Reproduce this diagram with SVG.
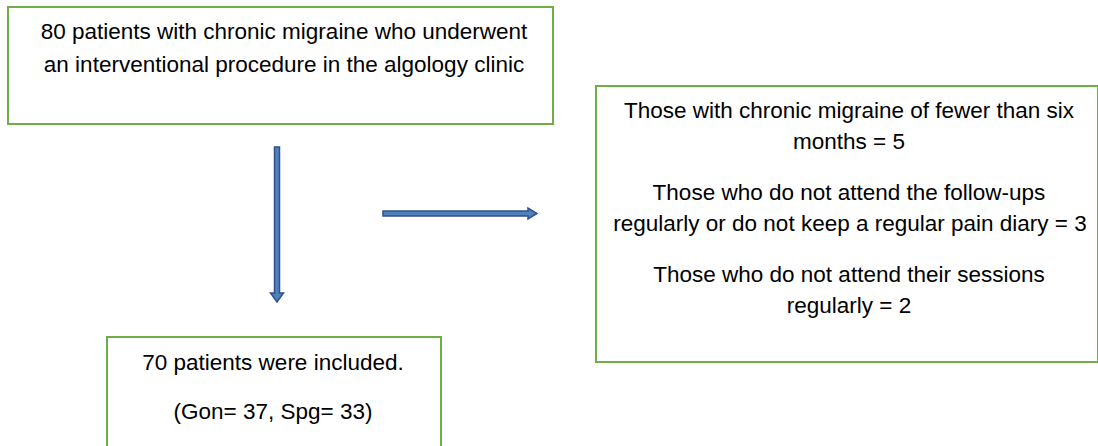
<svg xmlns="http://www.w3.org/2000/svg" width="1098" height="446" viewBox="0 0 1098 446">
<style>
.box{fill:#fff;stroke:#70ad47;stroke-width:2}
.t{font-family:"Liberation Sans",Arial,sans-serif;font-size:22.5px;fill:#000;text-anchor:middle}
.arr{fill:#4f81bd;stroke:#2f528f;stroke-width:1.5}
</style>
<rect width="1098" height="446" fill="#fff"/>
<g id="node-start">
<rect class="box" x="8" y="7" width="545" height="117"/>
<text class="t" x="284" y="39">80 patients with chronic migraine who underwent</text>
<text class="t" x="284" y="72">an interventional procedure in the algology clinic</text>
</g>
<g id="node-excluded">
<rect class="box" x="596" y="86" width="502" height="276"/>
<text class="t" x="849" y="118">Those with chronic migraine of fewer than six</text>
<text class="t" x="849" y="149">months = 5</text>
<text class="t" x="849" y="200">Those who do not attend the follow-ups</text>
<text class="t" x="850" y="231">regularly or do not keep a regular pain diary = 3</text>
<text class="t" x="849" y="282">Those who do not attend their sessions</text>
<text class="t" x="849" y="313">regularly = 2</text>
</g>
<g id="node-included">
<rect class="box" x="107" y="337" width="334" height="120"/>
<text class="t" x="273" y="370">70 patients were included.</text>
<text class="t" x="273" y="419">(Gon= 37, Spg= 33)</text>
</g>
<g id="connectors">
<path class="arr" d="M274.5 147 H279.5 V293 H283.5 L277 302 L270.5 293 H274.5 Z"/>
<path class="arr" d="M383 211 H528 V208 L537 213.5 L528 219 V216 H383 Z"/>
</g>
</svg>
